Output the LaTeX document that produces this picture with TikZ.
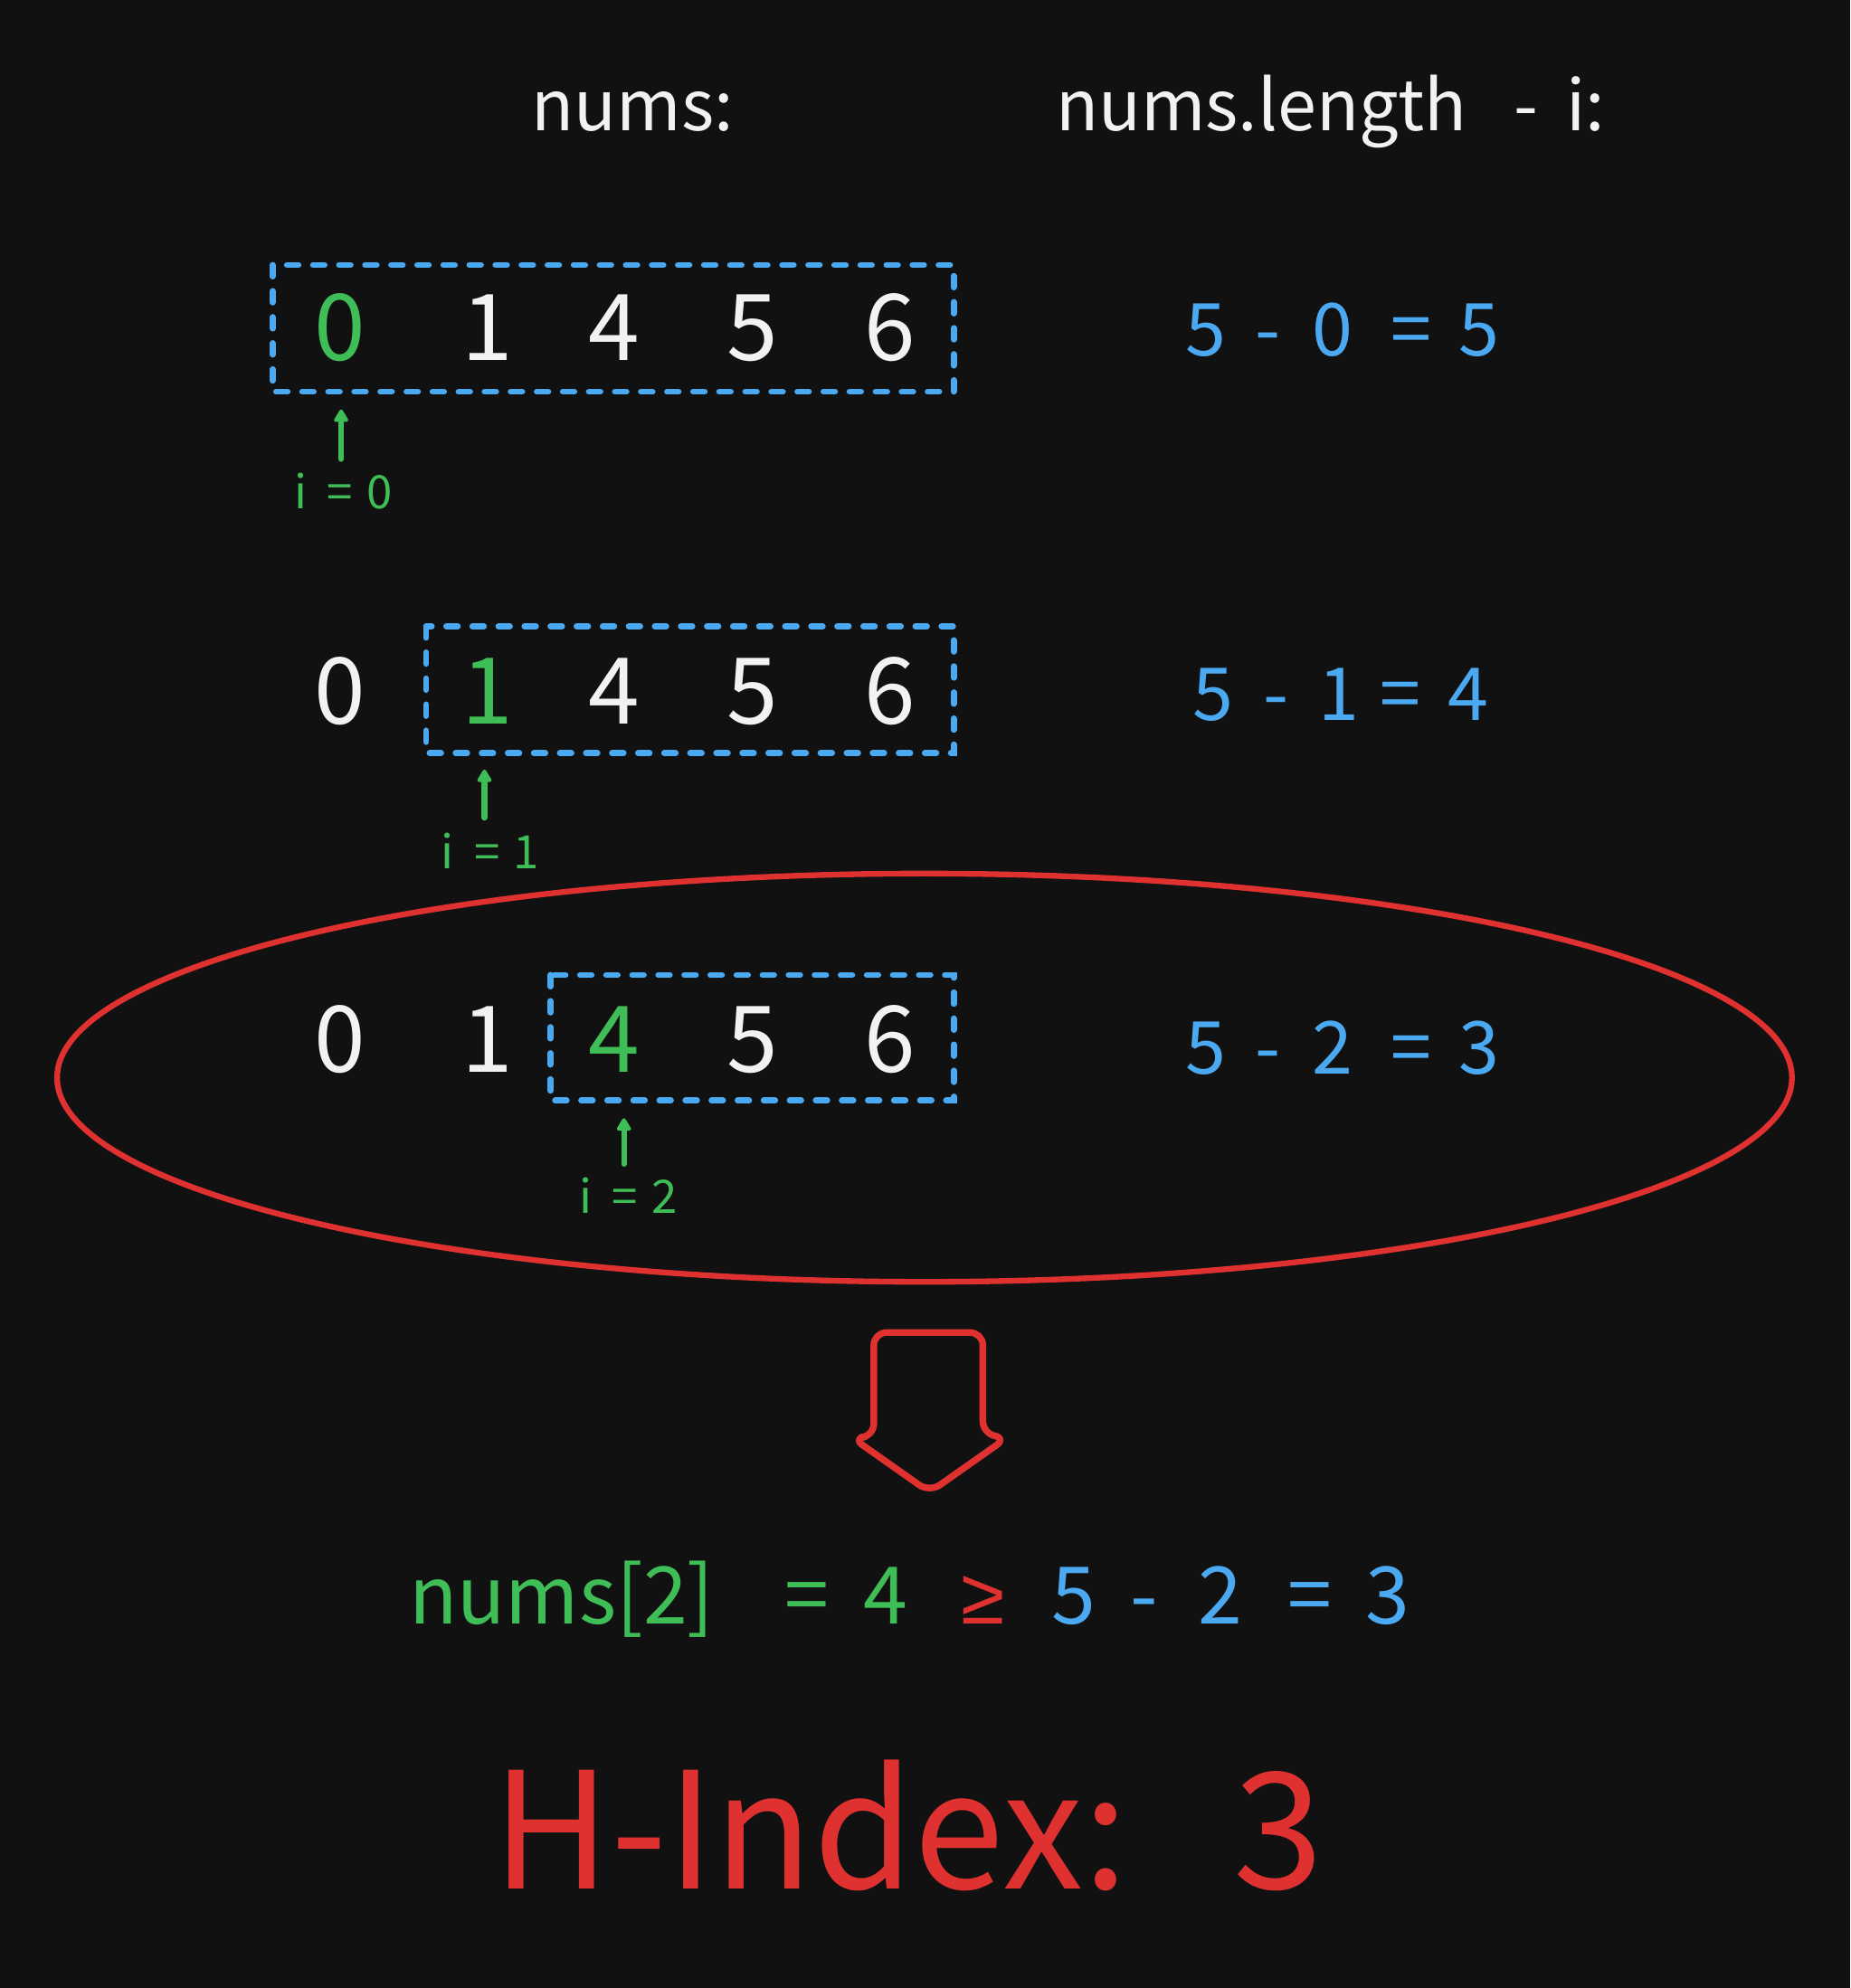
\documentclass[tikz,border=0pt]{standalone}
\usepackage{fontspec}
\setmainfont{Noto Sans CJK SC}
\newfontfamily\symf{Liberation Sans}
\usetikzlibrary{arrows.meta}
\definecolor{bg}{HTML}{111111}
\definecolor{gr}{HTML}{3FBE57}
\definecolor{bl}{HTML}{4BA9F2}
\definecolor{rd}{HTML}{E03131}
\definecolor{wh}{HTML}{F2F2F2}
\newlength\upx
\setlength\upx{0.014017cm}
\newcommand\cellbox[2]{\makebox[#1\upx][c]{#2}}
\newcommand\leftbox[2]{\makebox[#1\upx][l]{#2}}
\begin{document}
\begin{tikzpicture}[x=0.014017cm,y=-0.014017cm,
  every node/.style={inner sep=0pt,anchor=base},
  dig/.style={text=wh,font=\fontsize{29}{34}\selectfont},
  hdr/.style={text=wh,font=\fontsize{22}{27}\selectfont},
  res/.style={text=bl,font=\fontsize{23}{28}\selectfont,anchor=base west},
  ilab/.style={text=gr,font=\fontsize{14.5}{17}\selectfont},
  dbox/.style={draw=bl,line width=1.9pt,dash pattern=on 3.6pt off 4.6pt,line cap=round},
  garrow/.style={draw=gr,line width=1.8pt,line cap=round,-{Triangle[width=5pt,length=4.5pt,round]}},
  redline/.style={draw=rd,line width=1.8pt}
]
\fill[bg] (0,0) rectangle (1459,1568);
\useasboundingbox (0,0) rectangle (1459,1568);

% headers
\node[hdr] (h1) at (499,103) {nums:};
\node[hdr,anchor=base west] (h2) at (832,103) {\leftbox{345}{nums.length}\cellbox{52}{-}\cellbox{42}{i:}};

% row 1
\node[dig,text=gr] (r1a) at (268,284) {0};
\node[dig] (r1b) at (384,284) {1};
\node[dig] (r1c) at (484,284) {4};
\node[dig] (r1d) at (593,284) {5};
\node[dig] (r1e) at (702,284) {6};
\draw[dbox] (215,209) rectangle (752,309);
\coordinate (t1) at (269,323);
\coordinate (b1) at (269,362);
\draw[garrow] (b1) -- (t1);
\node[ilab] (i1) at (268,401) {\cellbox{31}{i}\cellbox{31}{=}\cellbox{31}{0}};
\node[res] (s1) at (925,281) {\cellbox{50}{5}\cellbox{49}{-}\cellbox{52}{0}\cellbox{72}{=}\cellbox{36}{5}};

% row 2
\node[dig] (r2a) at (268,571) {0};
\node[dig,text=gr] (r2b) at (384,571) {1};
\node[dig] (r2c) at (484,571) {4};
\node[dig] (r2d) at (593,571) {5};
\node[dig] (r2e) at (702,571) {6};
\draw[dbox] (336,494) rectangle (752,594);
\coordinate (t2) at (382,607);
\coordinate (b2) at (382,645);
\draw[garrow] (b2) -- (t2);
\node[ilab] (i2) at (384,685) {\cellbox{31}{i}\cellbox{31}{=}\cellbox{31}{1}};
\node[res] (s2) at (931,568) {\cellbox{50}{5}\cellbox{50}{-}\cellbox{48}{1}\cellbox{49}{=}\cellbox{58}{4}};

% row 3
\node[dig] (r3a) at (268,846) {0};
\node[dig] (r3b) at (384,846) {1};
\node[dig,text=gr] (r3c) at (484,846) {4};
\node[dig] (r3d) at (593,846) {5};
\node[dig] (r3e) at (702,846) {6};
\draw[dbox] (434,769) rectangle (752,868);
\coordinate (t3) at (492,882);
\coordinate (b3) at (492,918);
\draw[garrow] (b3) -- (t3);
\node[ilab] (i3) at (493,957) {\cellbox{31}{i}\cellbox{31}{=}\cellbox{31}{2}};
\node[res] (s3) at (925,847) {\cellbox{50}{5}\cellbox{49}{-}\cellbox{52}{2}\cellbox{72}{=}\cellbox{36}{3}};

% ellipse
\draw[redline] (729,850) ellipse [x radius=684, y radius=161];

% block arrow
\draw[draw=rd,line width=2.1pt,rounded corners=4pt,line join=round]
  (689,1133) -- (689,1051) -- (775,1051) -- (775,1131) -- (794,1134) -- (733,1177) -- (672,1134) -- cycle;

% equation
\node[anchor=base west,font=\fontsize{25}{30}\selectfont] (eq) at (322,1281)
  {\color{gr}\leftbox{296}{nums[2]}\cellbox{35}{=}\cellbox{90}{4}%
   \color{rd}\cellbox{63}{\symf ≥}%
   \color{bl}\cellbox{80}{5}\cellbox{32}{-}\cellbox{87}{2}\cellbox{55}{=}\cellbox{67}{3}};

% H-index
\node[anchor=base west,text=rd,font=\fontsize{51}{60}\selectfont] (hi) at (388,1490) {\leftbox{560}{H-Index:}\cellbox{119}{3}};
\end{tikzpicture}
\end{document}
